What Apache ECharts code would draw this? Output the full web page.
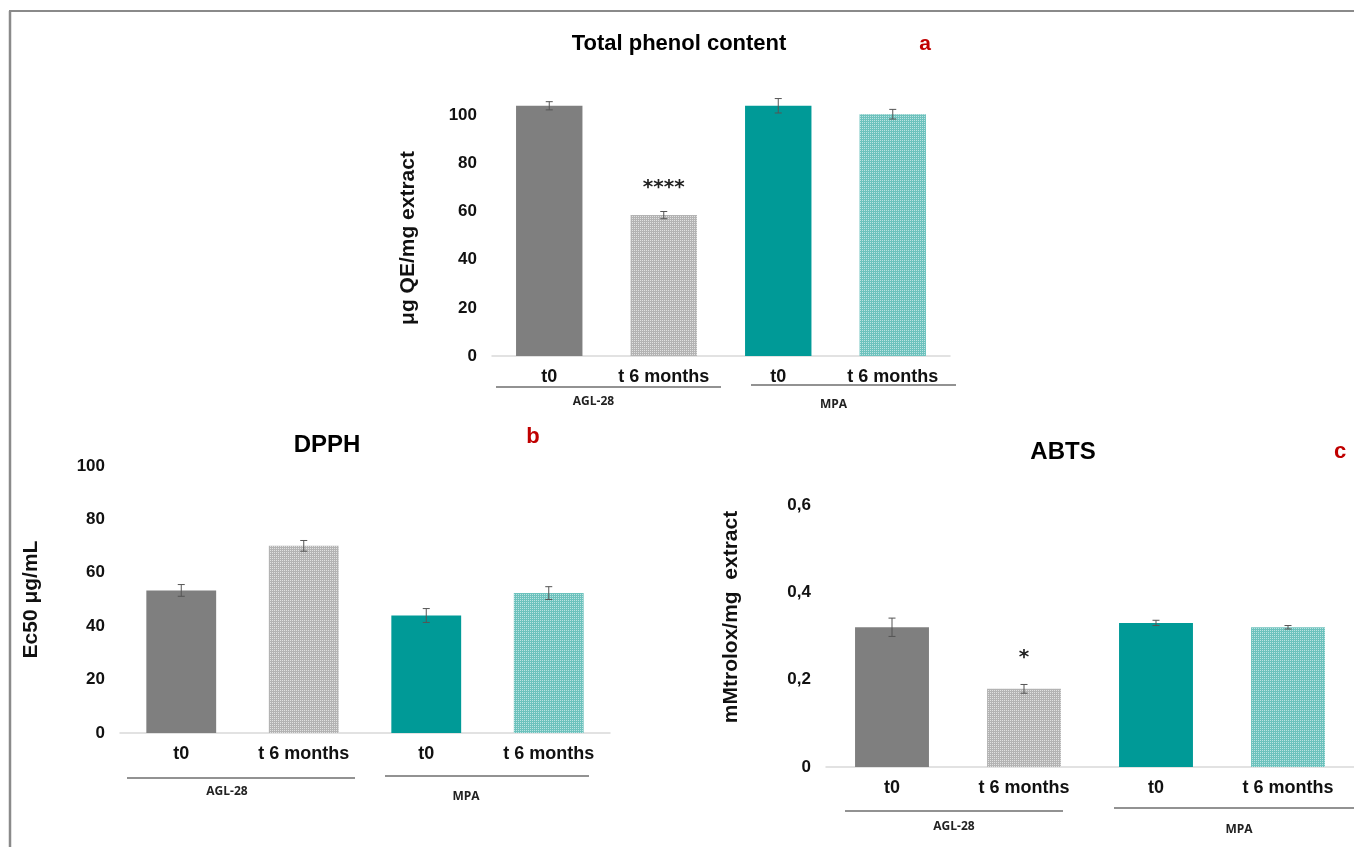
<!DOCTYPE html>
<html>
<head>
<meta charset="utf-8">
<script src="https://cdn.jsdelivr.net/npm/echarts@6/dist/echarts.min.js"></script>
<style>
html,body{margin:0;padding:0;background:#fff;}
#chart{width:1354px;height:847px;}
</style>
</head>
<body>
<div id="chart"></div>
<script>
// ---- data ----
const categories = ['t0', 't 6 months', 't0', 't 6 months'];
const groupNames = ['AGL-28', 'MPA'];
const groupFrom = [0, 2];
const groupTo = [1, 3];

const phenolValues = [103.9, 58.5, 103.9, 100.4];
const phenolErrors = [1.7, 1.5, 3.0, 2.0];
const phenolSig = ['', '****', '', ''];

const dpphValues = [53.4, 70.1, 44.0, 52.4];
const dpphErrors = [2.2, 2.0, 2.6, 2.4];
const dpphSig = ['', '', '', ''];

const abtsValues = [0.320, 0.179, 0.330, 0.320];
const abtsErrors = [0.021, 0.010, 0.006, 0.004];
const abtsSig = ['', '*', '', ''];

const phenolTicks = [0, 20, 40, 60, 80, 100];
const dpphTicks = [0, 20, 40, 60, 80, 100];
const abtsTicks = ['0', '0,2', '0,4', '0,6'];

// ---- styles ----
const FONT = "'Liberation Sans', Arial, sans-serif";
const barColors = ['#7f7f7f', '#b3b3b3', '#009a97', '#6cc2bd'];
const barDecal = [null, 'rgba(255,255,255,0.6)', null, 'rgba(255,255,255,0.55)'];

const chart = echarts.init(document.getElementById('chart'));

function barData(values) {
  return values.map((v, i) => {
    const st = { color: barColors[i] };
    if (barDecal[i]) {
      st.decal = { symbol: 'rect', symbolSize: 1, dashArrayX: [1, 1], dashArrayY: [1, 1], color: barDecal[i], rotation: 0 };
    }
    return { value: v, itemStyle: st };
  });
}

function errorSeries(gi, values, errors, sig, sigOffset) {
  return {
    type: 'custom', xAxisIndex: gi, yAxisIndex: gi, z: 5, silent: true,
    data: values.map((v, i) => [i, v, errors[i]]),
    encode: { x: 0, y: 1 },
    renderItem: function (params, api) {
      const i = api.value(0), v = api.value(1), e = api.value(2);
      const top = api.coord([i, v + e]);
      const bot = api.coord([i, v - e]);
      const cap = 3.5;
      const st = { stroke: '#555', lineWidth: 1 };
      const children = [
        { type: 'line', shape: { x1: top[0], y1: top[1], x2: bot[0], y2: bot[1] }, style: st },
        { type: 'line', shape: { x1: top[0] - cap, y1: top[1], x2: top[0] + cap, y2: top[1] }, style: st },
        { type: 'line', shape: { x1: bot[0] - cap, y1: bot[1], x2: bot[0] + cap, y2: bot[1] }, style: st }
      ];
      if (sig[i]) {
        children.push({ type: 'text', x: top[0], y: top[1] - sigOffset,
          style: { text: sig[i], font: "bold 20px 'DejaVu Sans', sans-serif", fill: '#222', align: 'center', verticalAlign: 'middle' } });
      }
      return { type: 'group', children: children };
    }
  };
}

function groupSeries(gi, lineOffset, labelOffset, insets, labelShift) {
  return {
    type: 'custom', xAxisIndex: gi, yAxisIndex: gi, silent: true, clip: false,
    data: groupNames.map((n, k) => [groupFrom[k], groupTo[k], k, 0]),
    encode: { x: [0, 1], y: 3 },
    renderItem: function (params, api) {
      const f = api.value(0), t = api.value(1), k = api.value(2);
      const bw = api.size([1, 0])[0];
      const p0 = api.coord([f, 0]);
      const p1 = api.coord([t, 0]);
      const x0 = p0[0] - bw / 2 + insets[k][0];
      const x1 = p1[0] + bw / 2 - insets[k][1];
      const y = p0[1] + lineOffset[k];
      return { type: 'group', children: [
        { type: 'line', shape: { x1: x0, y1: y, x2: x1, y2: y }, style: { stroke: '#6e6e6e', lineWidth: 1.3 } },
        { type: 'text', x: (x0 + x1) / 2 + labelShift[k], y: p0[1] + labelOffset[k],
          style: { text: groupNames[k], font: "bold 12px 'Open Sans', " + FONT, fill: '#222', align: 'center', verticalAlign: 'middle' } }
      ] };
    }
  };
}

function xAxisCfg(gi) {
  return {
    type: 'category', gridIndex: gi, data: categories,
    axisLine: { lineStyle: { color: '#d9d9d9', width: 1.5 } },
    axisTick: { show: false },
    axisLabel: { color: '#111', fontSize: 18, fontWeight: 'bold', fontFamily: FONT, margin: 12, interval: 0 }
  };
}

function yAxisCfg(gi, name, min, max, interval, nameGap, padding, fmt) {
  return {
    type: 'value', gridIndex: gi, min: min, max: max, interval: interval,
    name: name, nameLocation: 'middle', nameGap: nameGap, nameRotate: 90,
    nameTextStyle: { color: '#111', fontSize: 21, fontWeight: 'bold', fontFamily: FONT, padding: padding },
    axisLine: { show: false }, axisTick: { show: false }, splitLine: { show: false },
    axisLabel: { color: '#111', fontSize: 17, fontWeight: 'bold', fontFamily: FONT, margin: 15,
      showMaxLabel: gi !== 0, formatter: fmt }
  };
}

const option = {
  animation: false,
  backgroundColor: '#fff',
  grid: [
    { left: 492, top: 67, width: 458, height: 289 },
    { left: 120, top: 466, width: 490, height: 267 },
    { left: 826, top: 505, width: 540, height: 262 }
  ],
  xAxis: [xAxisCfg(0), xAxisCfg(1), xAxisCfg(2)],
  yAxis: [
    yAxisCfg(0, 'μg QE/mg extract', 0, 120, 20, 73, [0, 53, 0, 0], v => String(v)),
    yAxisCfg(1, 'Ec50 μg/mL', 0, 100, 20, 78, [0, 0, 0, 0], v => String(v)),
    yAxisCfg(2, 'mMtrolox/mg  extract', 0, 0.6, 0.2, 84, [0, 0, 0, 38],
      v => abtsTicks[Math.round(v / 0.2)])
  ],
  series: [
    { type: 'bar', xAxisIndex: 0, yAxisIndex: 0, barWidth: '58%', data: barData(phenolValues) },
    { type: 'bar', xAxisIndex: 1, yAxisIndex: 1, barWidth: '57%', data: barData(dpphValues) },
    { type: 'bar', xAxisIndex: 2, yAxisIndex: 2, barWidth: '56%', data: barData(abtsValues) },
    errorSeries(0, phenolValues, phenolErrors, phenolSig, 24),
    errorSeries(1, dpphValues, dpphErrors, dpphSig, 24),
    errorSeries(2, abtsValues, abtsErrors, abtsSig, 27),
    groupSeries(0, [31, 29], [46, 49], [[4, 0], [30, -6]], [-15, -20]),
    groupSeries(1, [45, 43], [59, 64], [[7, 10], [20, 21]], [-14, -21]),
    groupSeries(2, [44, 41], [60, 63], [[19, 27], [24, -10]], [0, 0])
  ],
  graphic: [
    { type: 'line', shape: { x1: 9, y1: 11, x2: 1354, y2: 11 }, style: { stroke: '#8a8a8a', lineWidth: 2 } },
    { type: 'line', shape: { x1: 10, y1: 11, x2: 10, y2: 847 }, style: { stroke: '#8a8a8a', lineWidth: 2.5 } },
    { type: 'text', x: 679, y: 44, style: { text: 'Total phenol content', font: 'bold 22px ' + FONT, fill: '#000', align: 'center', verticalAlign: 'middle' } },
    { type: 'text', x: 925, y: 44, style: { text: 'a', font: 'bold 21px ' + FONT, fill: '#c00000', align: 'center', verticalAlign: 'middle' } },
    { type: 'text', x: 327, y: 445, style: { text: 'DPPH', font: 'bold 24px ' + FONT, fill: '#000', align: 'center', verticalAlign: 'middle' } },
    { type: 'text', x: 533, y: 437, style: { text: 'b', font: 'bold 22px ' + FONT, fill: '#c00000', align: 'center', verticalAlign: 'middle' } },
    { type: 'text', x: 1063, y: 452, style: { text: 'ABTS', font: 'bold 24px ' + FONT, fill: '#000', align: 'center', verticalAlign: 'middle' } },
    { type: 'text', x: 1340, y: 452, style: { text: 'c', font: 'bold 22px ' + FONT, fill: '#c00000', align: 'center', verticalAlign: 'middle' } }
  ]
};
chart.setOption(option);
</script>
</body>
</html>
